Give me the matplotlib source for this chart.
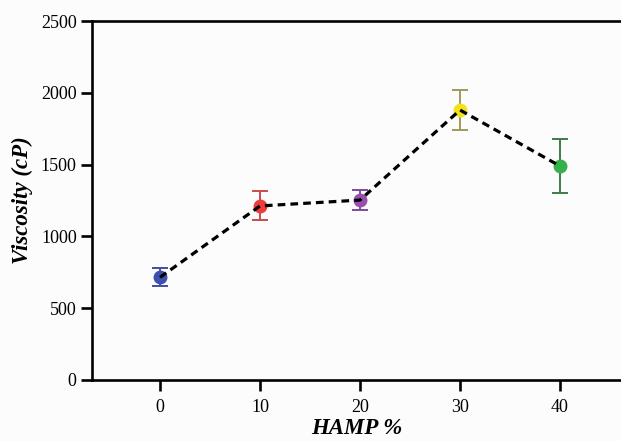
import matplotlib
matplotlib.use("Agg")
import matplotlib.pyplot as plt

hamp = [0, 10, 20, 30, 40]
viscosity = [715, 1212, 1253, 1880, 1490]
error = [63, 101, 70, 140, 185]
marker_colors = ["#3d50b0", "#ef3b3b", "#9a4fae", "#f3e21a", "#36b04a"]
bar_colors = ["#3d4fa3", "#c84c4c", "#7b4c9a", "#9c9a5c", "#3f7a4c"]

plt.rcParams["font.family"] = ["Liberation Serif", "DejaVu Serif"]

fig = plt.figure(figsize=(6.21, 4.41), dpi=100)
fig.patch.set_facecolor("#fcfcfc")
# axes runs off the right edge of the picture, so no right spine is seen
ax = fig.add_axes([92 / 621, 61 / 441, 529 / 621, 359 / 441])
ax.set_facecolor("#fcfcfc")

# dashed connecting line
ax.plot(hamp, viscosity, linestyle=(0, (2.4, 1.6)), color="black", lw=2.3, zorder=3)

for x, y, e, mc, bc in zip(hamp, viscosity, error, marker_colors, bar_colors):
    ax.errorbar(x, y, yerr=e, fmt="none", ecolor=bc, elinewidth=1.4,
                capsize=6, capthick=1.4, zorder=2)
    ax.plot(x, y, "o", color=mc, markersize=9, zorder=2.5)

ax.set_xlim(-6.8, 46.1)
ax.set_ylim(0, 2500)
ax.set_xticks(hamp)
ax.set_yticks([0, 500, 1000, 1500, 2000, 2500])

ax.spines["right"].set_visible(False)
for s in ["left", "bottom", "top"]:
    ax.spines[s].set_linewidth(1.9)
ax.tick_params(axis="both", direction="out", length=8, width=1.9,
               labelsize=13, pad=3)
ax.tick_params(axis="x", pad=6)

ax.set_xlabel("HAMP %", fontsize=16.5, fontweight="bold", style="italic", labelpad=1)
ax.set_ylabel("Viscosity (cP)", fontsize=16.5, fontweight="bold", style="italic", labelpad=6)

fig.savefig("out.png", dpi=100, facecolor=fig.get_facecolor())
